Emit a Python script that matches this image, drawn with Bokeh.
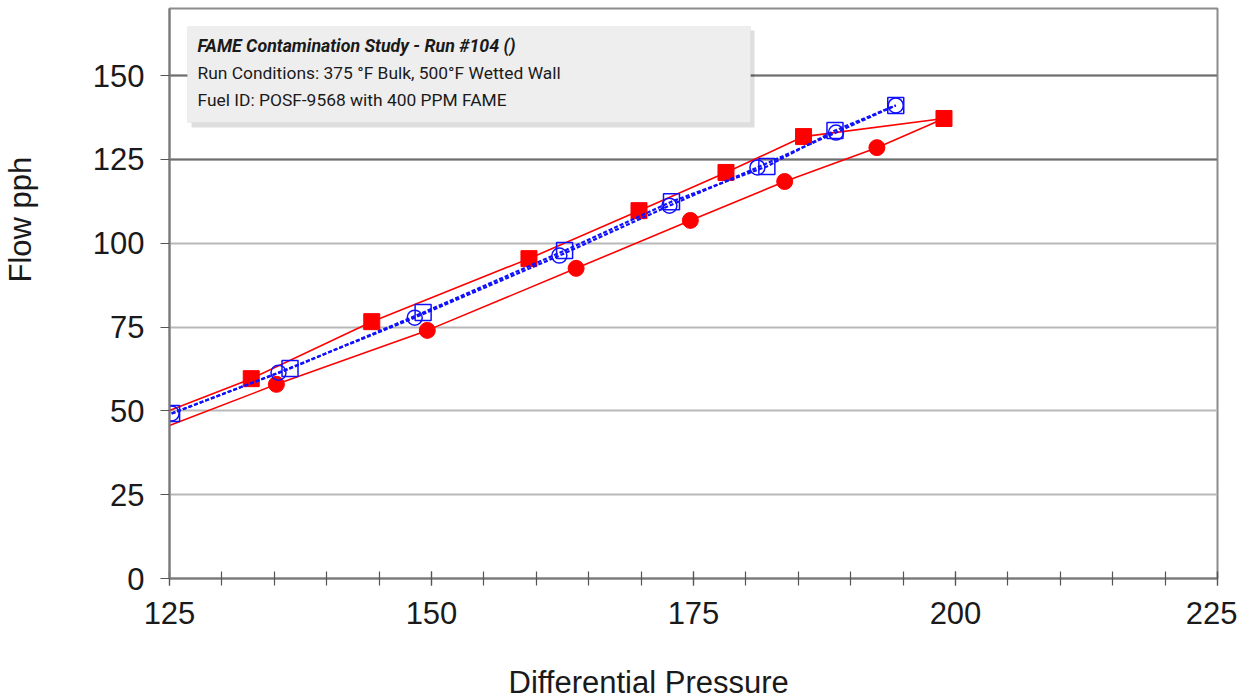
from bokeh.plotting import figure
from bokeh.models import Range1d, FixedTicker, Grid, Label, BoxAnnotation, Title
from bokeh.embed import file_html
from bokeh.resources import INLINE

# ---------------- data ----------------
x_ticks = [125, 150, 175, 200, 225]
x_minor = [125, 130, 135, 140, 145, 150, 155, 160, 165, 170, 175, 180, 185, 190, 195, 200, 205, 210, 215, 220, 225]
y_ticks = [0, 25, 50, 75, 100, 125, 150]
y_dark = [125, 150]

# red, increasing (squares) - first point is line start only
red_up_x = [125.0, 132.8, 144.3, 159.3, 169.8, 178.1, 185.5, 198.9]
red_up_y = [50.1, 59.6, 76.6, 95.4, 109.7, 121.1, 131.8, 137.2]
# red, decreasing (circles) - first point line start only, last point is the shared max
red_dn_x = [125.0, 135.2, 149.6, 163.8, 174.7, 183.7, 192.5, 198.9]
red_dn_y = [45.6, 57.9, 74.0, 92.5, 106.8, 118.4, 128.5, 137.2]

# blue hollow squares
blue_sq_x = [125.2, 136.5, 149.2, 162.7, 172.9, 182.0, 188.5, 194.3]
blue_sq_y = [49.2, 62.6, 79.3, 97.8, 112.4, 122.9, 133.6, 141.1]
# blue hollow circles
blue_ci_x = [125.2, 135.4, 148.4, 162.2, 172.7, 181.1, 188.6, 194.3]
blue_ci_y = [49.2, 61.4, 77.8, 96.3, 111.2, 122.6, 133.0, 141.1]

title_lines = ["FAME Contamination Study - Run #104 ()",
               "Run Conditions: 375 \u00b0F Bulk, 500\u00b0F Wetted Wall",
               "Fuel ID: POSF-9568 with 400 PPM FAME"]
x_title = "Differential Pressure"
y_title = "Flow pph"

FONT = "Liberation Sans"
FS = "31px"
RED = "#ff0000"
BLUE = "#1010ff"

p = figure(frame_width=1048, frame_height=570,
           x_range=Range1d(125, 225), y_range=Range1d(0, 170),
           output_backend="svg", toolbar_location=None,
           min_border_left=169, min_border_right=20, min_border_top=8, min_border_bottom=0)
p.background_fill_color = "white"
p.border_fill_color = "white"
p.outline_line_color = "#8c8c8c"
p.outline_line_width = 2

# grids
p.xgrid.visible = False
p.ygrid.ticker = FixedTicker(ticks=y_ticks)
p.ygrid.grid_line_color = "#b8b8b8"
p.ygrid.grid_line_width = 2
dark = Grid(dimension=1, ticker=FixedTicker(ticks=y_dark), grid_line_color="#6f6f6f", grid_line_width=2)
p.add_layout(dark)

# axes
xa = p.xaxis[0]
xa.ticker = FixedTicker(ticks=x_ticks, minor_ticks=x_minor)
xa.axis_line_color = "#7a7a7a"
xa.axis_line_width = 2
xa.major_tick_line_color = "#555555"
xa.minor_tick_line_color = "#555555"
xa.major_tick_line_width = 1.2
xa.minor_tick_line_width = 1.2
xa.major_tick_in = 7
xa.major_tick_out = 7
xa.minor_tick_in = 7
xa.minor_tick_out = 7
xa.major_label_text_font = FONT
xa.major_label_text_font_size = FS
xa.major_label_text_color = "#1a1a1a"
xa.major_label_standoff = 16
# blank axis label used only as a spacer before the offset title
xa.axis_label = " "
xa.axis_label_text_font_size = "10px"
xa.axis_label_standoff = 22

ya = p.yaxis[0]
ya.ticker = FixedTicker(ticks=y_ticks)
ya.axis_line_color = "#7a7a7a"
ya.axis_line_width = 2
ya.major_tick_line_color = "#555555"
ya.major_tick_line_width = 1.2
ya.major_tick_in = 0
ya.major_tick_out = 9
ya.minor_tick_line_color = None
ya.major_label_text_font = FONT
ya.major_label_text_font_size = FS
ya.major_label_text_color = "#1a1a1a"
ya.major_label_standoff = 16
ya.axis_label = " "
ya.axis_label_text_font_size = "10px"
ya.axis_label_standoff = 38

# axis titles as side titles (offset like the original)
p.add_layout(Title(text=x_title, align="left", offset=339, standoff=0,
                   text_font=FONT, text_font_size=FS, text_font_style="normal",
                   text_color="#1a1a1a"), "below")
p.add_layout(Title(text=y_title, align="left", offset=296, standoff=0,
                   text_font=FONT, text_font_size=FS, text_font_style="normal",
                   text_color="#1a1a1a"), "left")

# series
p.line(red_up_x, red_up_y, line_color=RED, line_width=1.6)
p.line(red_dn_x, red_dn_y, line_color=RED, line_width=1.6)
p.scatter(red_up_x[1:], red_up_y[1:], marker="square", size=16, fill_color=RED, line_color=RED)
p.scatter(red_dn_x[1:-1], red_dn_y[1:-1], marker="circle", size=16, fill_color=RED, line_color=RED)

p.line(blue_ci_x, blue_ci_y, line_color=BLUE, line_width=2.2, line_dash="4 2")
p.line(blue_sq_x, blue_sq_y, line_color=BLUE, line_width=2.2, line_dash="4 2")
p.scatter(blue_ci_x, blue_ci_y, marker="circle", size=15, fill_color=None, line_color=BLUE, line_width=1.5)
p.scatter(blue_sq_x, blue_sq_y, marker="square", size=16, fill_color=None, line_color=BLUE, line_width=1.5)

# annotation box with shadow
p.add_layout(BoxAnnotation(left=22, right=585, top=548, bottom=451,
                           left_units="screen", right_units="screen", top_units="screen", bottom_units="screen",
                           fill_color="#000000", fill_alpha=0.13, line_color=None))
p.add_layout(BoxAnnotation(left=18, right=581, top=552, bottom=456,
                           left_units="screen", right_units="screen", top_units="screen", bottom_units="screen",
                           fill_color="#eeeeee", fill_alpha=1.0, line_color="#d6d6d6", line_width=1))

ys = [533, 506, 479]
sizes = ["17.8px", "17.4px", "17.4px"]
for i, (t, yy) in enumerate(zip(title_lines, ys)):
    p.add_layout(Label(x=28, y=yy, x_units="screen", y_units="screen", text=t,
                       text_font="Roboto", text_font_size=sizes[i], text_color="#1a1a1a",
                       text_font_style="bold italic" if i == 0 else "normal",
                       text_baseline="alphabetic"))

open("out.html", "w").write(file_html(p, INLINE))
